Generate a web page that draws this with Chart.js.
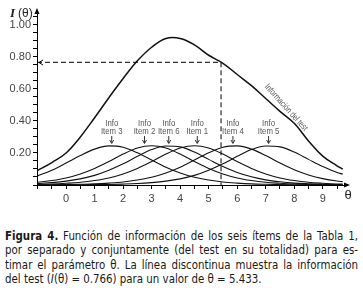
<!DOCTYPE html>
<html>
<head>
<meta charset="utf-8">
<script src="https://cdn.jsdelivr.net/npm/chart.js@4.4.1/dist/chart.umd.min.js"></script>
<style>
  body { margin: 0; background: #fff; width: 363px; height: 288px; overflow: hidden; position: relative; }
  #chart { position: absolute; left: 0; top: 0; }
  .cap { position: absolute; left: 5px; top: 229px; width: 353px; color: #1a1a1a;
         font-family: "DejaVu Sans Condensed", "DejaVu Sans", sans-serif; font-size: 11.4px; line-height: 14.4px; }
  .cap div { text-align: justify; text-align-last: justify; white-space: nowrap; }
  .cap div.last { text-align-last: left; }
</style>
</head>
<body>
<canvas id="chart" width="363" height="215"></canvas>
<div class="cap">
  <div><b>Figura 4.</b> Función de información de los seis ítems de la Tabla 1,</div>
  <div>por separado y conjuntamente (del test en su totalidad) para es-</div>
  <div>timar el parámetro θ. La línea discontinua muestra la información</div>
  <div class="last">del test (<i>I</i>(θ) = 0.766) para un valor de θ = 5.433.</div>
</div>
<script>
// theta grid and curves
const theta = [-1, -0.5, 0, 0.5, 1, 1.5, 2, 2.5, 3, 3.5, 4, 4.5, 5, 5.5, 6, 6.5, 7, 7.5, 8, 8.5, 9, 9.5, 9.7];
const item1 = [.004, .0065, .011, .017, .028, .044, .069, .103, .146, .193, .231, .245, .231, .193, .146, .103, .069, .044, .028, .017, .011, .0065, .0055];
const item2 = [.017, .028, .044, .069, .103, .146, .193, .231, .245, .231, .193, .146, .103, .069, .044, .028, .017, .011, .0065, .004, .0024, .0015, .0012];
const item3 = [.057, .092, .137, .184, .224, .244, .236, .201, .156, .111, .075, .048, .031, .019, .012, .007, .0045, .0027, .0016, .001, .0006, .0004, .0003];
const item4 = [.001, .0016, .0027, .0045, .007, .012, .019, .031, .048, .075, .111, .156, .201, .236, .244, .224, .184, .137, .095, .063, .040, .025, .021];
const item5 = [.0003, .0005, .0008, .0013, .0021, .0035, .0057, .009, .015, .024, .038, .060, .092, .132, .179, .221, .2435, .238, .206, .160, .115, .078, .068];
const item6 = [.009, .015, .024, .038, .060, .092, .132, .179, .221, .2435, .238, .206, .160, .115, .078, .051, .032, .020, .012, .008, .0047, .0028, .0023];
const testInfo = [.09, .14, .20, .30, .42, .545, .665, .775, .86, .915, .915, .875, .81, .76, .69, .62, .54, .46, .385, .275, .18, .12, .10];

const refTheta = 5.433;
const refInfo = 0.766;

// label text and the theta each "Info / Item" arrow points to
const itemLabels = ["Item 3", "Item 2", "Item 6", "Item 1", "Item 4", "Item 5"];
const itemLabelTheta = [1.6, 2.75, 3.6, 4.6, 5.85, 7.1];

const xMin = -1.02, xMax = 9.85, yMax = 1.08;

const pts = (arr) => theta.map((t, i) => ({ x: t, y: arr[i] }));
const itemStyle = { borderColor: "#111", borderWidth: 1.1, pointRadius: 0, fill: false, cubicInterpolationMode: "monotone" };

const decorations = {
  id: "decorations",
  afterDraw(chart) {
    const { ctx, chartArea: a, scales: { x, y } } = chart;
    ctx.save();
    ctx.fillStyle = "#000";
    ctx.strokeStyle = "#000";

    // axis arrowheads
    ctx.beginPath();
    ctx.moveTo(a.left, a.top - 4);
    ctx.lineTo(a.left - 2.5, a.top + 2);
    ctx.lineTo(a.left + 2.5, a.top + 2);
    ctx.closePath();
    ctx.fill();
    ctx.beginPath();
    ctx.moveTo(a.right + 3, a.bottom);
    ctx.lineTo(a.right - 3, a.bottom - 2.5);
    ctx.lineTo(a.right - 3, a.bottom + 2.5);
    ctx.closePath();
    ctx.fill();

    // open arrowhead at the left end of the dashed line
    const yr = Math.round(y.getPixelForValue(refInfo)) + 0.5;
    ctx.lineWidth = 1;
    ctx.beginPath();
    ctx.moveTo(a.left + 6, yr - 2.5);
    ctx.lineTo(a.left + 2, yr);
    ctx.lineTo(a.left + 6, yr + 2.5);
    ctx.stroke();

    // axis titles
    ctx.fillStyle = "#222";
    ctx.textBaseline = "alphabetic";
    ctx.font = "bold italic 13px 'Liberation Serif', serif";
    ctx.fillText("I", 10, 17);
    ctx.font = "12px 'Liberation Sans', sans-serif";
    ctx.fillText("(θ)", 18, 17);
    ctx.font = "13px 'Liberation Sans', sans-serif";
    ctx.textAlign = "center";
    ctx.fillText("θ", a.right + 1, a.bottom + 14);

    // Info / Item labels with arrows
    ctx.fillStyle = "#555";
    ctx.strokeStyle = "#333";
    itemLabels.forEach((lab, i) => {
      const px = x.getPixelForValue(itemLabelTheta[i]);
      ctx.save();
      ctx.translate(px, 0);
      ctx.scale(0.82, 1);
      ctx.font = "9.5px 'Liberation Sans', sans-serif";
      ctx.textAlign = "center";
      ctx.fillText("Info", 0, 126);
      ctx.fillText(lab, 0, 134);
      ctx.restore();
      ctx.beginPath();
      ctx.moveTo(px, 136);
      ctx.lineTo(px, 143);
      ctx.stroke();
      ctx.beginPath();
      ctx.moveTo(px - 2, 140);
      ctx.lineTo(px, 143.5);
      ctx.lineTo(px + 2, 140);
      ctx.stroke();
    });

    // rotated label along the test curve
    ctx.save();
    ctx.translate(x.getPixelForValue(6.95), y.getPixelForValue(0.612));
    ctx.rotate(48 * Math.PI / 180);
    ctx.scale(0.76, 1);
    ctx.font = "9px 'Liberation Sans', sans-serif";
    ctx.textAlign = "left";
    ctx.fillStyle = "#555";
    ctx.fillText("Información del test", 0, 0);
    ctx.restore();

    ctx.restore();
  }
};

new Chart(document.getElementById("chart"), {
  type: "line",
  data: {
    datasets: [
      { label: "Información del test", data: pts(testInfo), ...itemStyle, cubicInterpolationMode: "default", tension: 0.4, borderWidth: 1.5 },
      { label: "Item 1", data: pts(item1), ...itemStyle },
      { label: "Item 2", data: pts(item2), ...itemStyle },
      { label: "Item 3", data: pts(item3), ...itemStyle },
      { label: "Item 4", data: pts(item4), ...itemStyle },
      { label: "Item 5", data: pts(item5), ...itemStyle },
      { label: "Item 6", data: pts(item6), ...itemStyle },
      {
        label: "ref",
        data: [{ x: xMin, y: refInfo }, { x: refTheta, y: refInfo }, { x: refTheta, y: 0 }],
        borderColor: "#000",
        borderWidth: 1,
        borderDash: [5, 3],
        pointRadius: 0,
        tension: 0,
        fill: false,
      },
    ],
  },
  options: {
    responsive: false,
    animation: false,
    devicePixelRatio: 1,
    layout: { padding: { top: 12, right: 16, bottom: 5, left: 0 } },
    plugins: { legend: { display: false }, tooltip: { enabled: false } },
    scales: {
      x: {
        type: "linear",
        min: xMin,
        max: xMax,
        afterFit(scale) { scale.height = 25; },
        grid: { drawOnChartArea: false, drawTicks: true, tickLength: 4, color: "#000" },
        border: { color: "#000", width: 1 },
        ticks: {
          stepSize: 0.5,
          includeBounds: false,
          autoSkip: false,
          maxRotation: 0,
          padding: 3,
          color: "#444",
          font: { family: "'Liberation Sans', sans-serif", size: 11 },
          callback: (v) => (Number.isInteger(v) && v >= 0 ? String(v) : ""),
        },
      },
      y: {
        min: 0,
        max: yMax,
        afterFit(scale) { scale.width = 37; },
        grid: { drawOnChartArea: false, drawTicks: true, tickLength: 4, color: "#000" },
        border: { color: "#000", width: 1 },
        ticks: {
          stepSize: 0.05,
          includeBounds: false,
          autoSkip: false,
          padding: 2,
          color: "#444",
          font: { family: "'Liberation Sans', sans-serif", size: 11 },
          callback: (v) => {
            const k = Math.round(v * 100);
            return k > 0 && k % 20 === 0 ? (k / 100).toFixed(2) : "";
          },
        },
      },
    },
  },
  plugins: [decorations],
});
</script>
</body>
</html>
